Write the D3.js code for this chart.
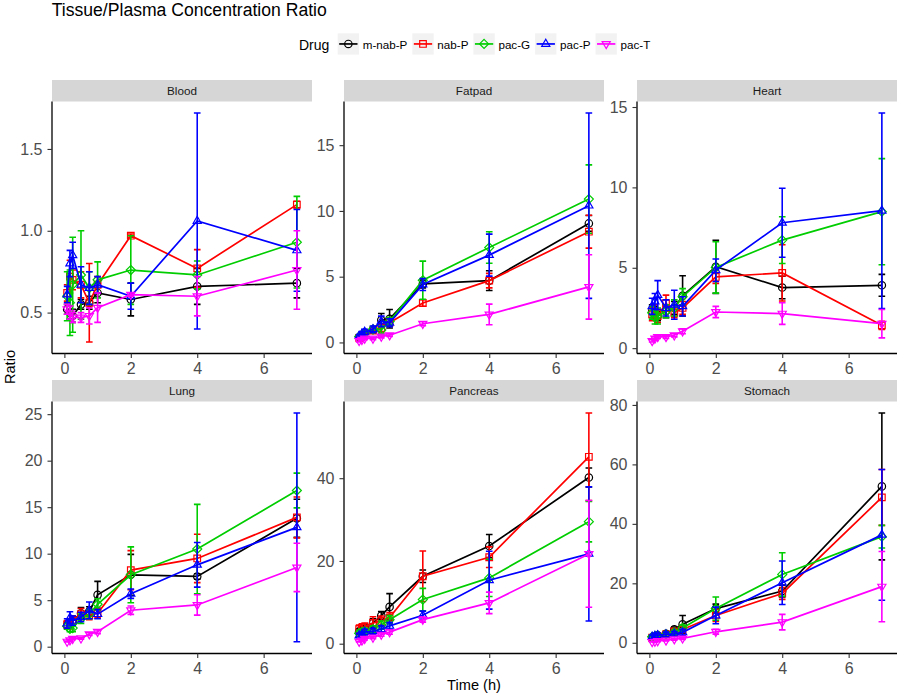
<!DOCTYPE html>
<html><head><meta charset="utf-8">
<script src="https://cdn.jsdelivr.net/npm/d3@7"></script>
<style>
body{margin:0;background:#fff}
svg{display:block}
text{font-family:"Liberation Sans",Arial,Helvetica,sans-serif}
</style>
</head><body>
<svg id="chart" width="900" height="697"></svg>
<script>
// ---------------- DATA ----------------
const times = [0.083, 0.167, 0.25, 0.5, 0.75, 1, 2, 4, 7];
const drugs = ["m-nab-P", "nab-P", "pac-G", "pac-P", "pac-T"];
const tissues = ["Blood", "Fatpad", "Heart", "Lung", "Pancreas", "Stomach"];
const xTicks = [0, 2, 4, 6];

const bloodTicks = [0.5, 1.0, 1.5];
const fatpadTicks = [0, 5, 10, 15];
const heartTicks = [0, 5, 10, 15];
const lungTicks = [0, 5, 10, 15, 20, 25];
const pancreasTicks = [0, 20, 40];
const stomachTicks = [0, 20, 40, 60, 80];

// rows: m-nab-P, nab-P, pac-G, pac-P, pac-T
const bloodMean = [
  [0.52, 0.50, 0.48, 0.55, 0.56, 0.62, 0.58, 0.66, 0.68],
  [0.62, 0.72, 0.70, 0.67, 0.56, 0.67, 0.97, 0.77, 1.16],
  [0.60, 0.56, 0.67, 0.73, 0.65, 0.70, 0.76, 0.73, 0.93],
  [0.61, 0.80, 0.85, 0.67, 0.65, 0.67, 0.60, 1.06, 0.88],
  [0.52, 0.50, 0.47, 0.47, 0.48, 0.53, 0.61, 0.60, 0.76]
];
const bloodSD = [
  [0.03, 0.04, 0.04, 0.03, 0.04, 0.06, 0.10, 0.11, 0.09],
  [0.05, 0.10, 0.06, 0.08, 0.24, 0.05, 0.01, 0.115, 0.02],
  [0.15, 0.20, 0.29, 0.27, 0.10, 0.11, 0.21, 0.085, 0.28],
  [0.05, 0.08, 0.08, 0.11, 0.10, 0.05, 0.08, 0.66, 0.25],
  [0.03, 0.04, 0.03, 0.03, 0.05, 0.09, 0.01, 0.12, 0.24]
];

const fatpadMean = [
  [0.40, 0.55, 0.75, 0.95, 1.70, 1.80, 4.45, 4.70, 9.05],
  [0.35, 0.50, 0.65, 0.90, 1.10, 1.50, 3.00, 4.70, 8.42],
  [0.45, 0.55, 0.70, 1.00, 0.95, 1.60, 4.73, 7.22, 10.90],
  [0.50, 0.65, 0.80, 1.00, 1.60, 1.50, 4.40, 6.64, 10.40],
  [0.12, 0.20, 0.30, 0.30, 0.45, 0.55, 1.42, 2.13, 4.22]
];
const fatpadSD = [
  [0.10, 0.15, 0.20, 0.20, 0.50, 0.70, 0.30, 0.75, 0.60],
  [0.10, 0.15, 0.15, 0.20, 0.30, 0.25, 0.25, 0.55, 1.25],
  [0.10, 0.15, 0.20, 0.20, 0.30, 0.30, 1.45, 1.20, 2.60],
  [0.10, 0.15, 0.20, 0.25, 0.40, 0.30, 0.45, 1.60, 7.05],
  [0.09, 0.05, 0.10, 0.10, 0.10, 0.10, 0.15, 0.78, 2.45]
];

const heartMean = [
  [2.30, 2.20, 2.00, 2.30, 2.50, 3.25, 5.06, 3.77, 3.91],
  [2.10, 2.30, 2.00, 2.80, 2.20, 2.50, 4.43, 4.68, 1.42],
  [2.20, 1.90, 2.00, 2.30, 2.50, 3.20, 5.02, 6.72, 8.49],
  [2.60, 2.90, 3.30, 2.50, 2.70, 2.60, 4.85, 7.80, 8.55],
  [0.45, 0.60, 0.70, 0.70, 0.80, 1.05, 2.25, 2.15, 1.52]
];
const heartSD = [
  [0.40, 0.40, 0.30, 0.40, 0.40, 1.25, 1.65, 0.70, 0.68],
  [0.40, 0.40, 0.40, 0.50, 0.30, 0.40, 0.40, 1.75, 0.25],
  [0.40, 0.40, 0.50, 0.40, 0.50, 0.50, 1.60, 1.45, 3.30],
  [0.50, 0.50, 0.90, 0.50, 0.90, 0.60, 0.70, 2.15, 6.08],
  [0.07, 0.10, 0.10, 0.10, 0.10, 0.15, 0.35, 0.67, 0.88]
];

const lungMean = [
  [2.30, 2.50, 2.80, 3.60, 3.80, 5.57, 7.73, 7.55, 13.80],
  [2.40, 2.30, 2.80, 3.50, 3.40, 3.60, 8.23, 9.49, 13.90],
  [2.20, 1.90, 2.00, 3.00, 3.50, 4.56, 7.73, 10.50, 16.79],
  [2.50, 3.10, 2.80, 3.20, 3.90, 3.50, 5.70, 8.80, 12.83],
  [0.55, 0.70, 0.85, 0.90, 1.35, 1.60, 3.92, 4.49, 8.52]
];
const lungSD = [
  [0.40, 0.50, 0.50, 0.60, 0.50, 1.45, 2.20, 0.30, 2.05],
  [0.40, 0.40, 0.50, 0.60, 0.50, 0.50, 2.10, 2.60, 2.20],
  [0.30, 0.30, 0.40, 0.50, 0.50, 0.60, 3.00, 4.80, 1.87],
  [0.50, 0.65, 0.50, 0.50, 0.90, 0.50, 0.50, 2.40, 12.30],
  [0.05, 0.10, 0.10, 0.10, 0.15, 0.20, 0.45, 1.10, 2.60]
];

const pancreasMean = [
  [3.0, 3.5, 4.0, 5.0, 6.8, 8.9, 16.3, 23.6, 40.16],
  [3.5, 3.8, 4.0, 5.0, 5.5, 6.3, 16.3, 20.9, 45.17],
  [2.5, 2.8, 3.0, 3.5, 4.5, 5.8, 10.67, 15.9, 29.5],
  [2.0, 2.2, 2.8, 3.0, 3.5, 4.3, 6.87, 15.35, 21.7],
  [0.5, 0.8, 1.2, 1.5, 2.2, 2.8, 5.82, 9.86, 21.7]
];
const pancreasSD = [
  [0.6, 0.8, 0.8, 1.0, 1.0, 3.2, 1.5, 2.8, 2.3],
  [1.0, 1.0, 1.0, 1.5, 1.2, 1.2, 6.1, 2.5, 10.6],
  [0.7, 0.8, 0.8, 0.8, 1.0, 1.0, 2.7, 4.5, 4.9],
  [0.5, 0.6, 0.7, 0.7, 0.8, 0.8, 1.0, 7.0, 16.2],
  [0.1, 0.2, 0.3, 0.3, 0.4, 0.5, 0.6, 2.6, 12.9]
];

const stomachMean = [
  [1.8, 2.0, 2.5, 3.0, 4.5, 6.2, 11.5, 17.4, 52.6],
  [1.7, 2.0, 2.2, 2.8, 3.8, 4.5, 9.2, 16.6, 48.9],
  [2.0, 2.2, 2.5, 2.8, 3.5, 5.0, 11.5, 23.0, 35.7],
  [2.0, 2.3, 2.5, 2.8, 3.0, 3.5, 9.2, 20.2, 36.3],
  [0.3, 0.4, 0.6, 0.8, 1.2, 1.5, 3.7, 6.95, 18.9]
];
const stomachSD = [
  [0.5, 0.6, 0.6, 0.8, 0.8, 3.0, 1.5, 2.0, 24.7],
  [0.5, 0.5, 0.6, 0.7, 0.8, 1.0, 2.0, 2.0, 9.4],
  [0.5, 0.5, 0.6, 0.7, 0.8, 1.0, 3.9, 7.3, 3.8],
  [0.6, 0.8, 0.8, 0.8, 0.8, 1.0, 2.8, 7.3, 22.0],
  [0.05, 0.1, 0.2, 0.2, 0.3, 0.4, 0.8, 2.6, 11.8]
];

// ---------------- STYLE / LAYOUT ----------------
const colors = ["#000000", "#ff0000", "#00cd00", "#0000ff", "#ff00ff"];
const shapes = ["circle", "square", "diamond", "triUp", "triDown"];
const panelMeans = [bloodMean, fatpadMean, heartMean, lungMean, pancreasMean, stomachMean];
const panelSDs = [bloodSD, fatpadSD, heartSD, lungSD, pancreasSD, stomachSD];
const panelTicks = [bloodTicks, fatpadTicks, heartTicks, lungTicks, pancreasTicks, stomachTicks];

const colX = [52, 344, 637];
const panelW = 260;
const stripTop = [80, 380];
const stripH = 21.5;
const plotH = 252;
const capW = 0.2; // error bar width in x units

const svg = d3.select("#chart");

function shapePath(shape, x, y) {
  switch (shape) {
    case "circle": return null;
    case "square": { const s = 3.3; return `M${x-s},${y-s}h${2*s}v${2*s}h${-2*s}Z`; }
    case "diamond": { const d = 4.5; return `M${x},${y-d}L${x+d},${y}L${x},${y+d}L${x-d},${y}Z`; }
    case "triUp": { const r = 4.7; return `M${x},${y-r}L${x+r*0.866},${y+r*0.5}L${x-r*0.866},${y+r*0.5}Z`; }
    case "triDown": { const r = 4.7; return `M${x},${y+r}L${x+r*0.866},${y-r*0.5}L${x-r*0.866},${y-r*0.5}Z`; }
  }
}
function drawMarker(g, shape, x, y, color) {
  if (shape === "circle") {
    g.append("circle").attr("cx", x).attr("cy", y).attr("r", 3.7)
      .attr("fill", "none").attr("stroke", color).attr("stroke-width", 1.2);
  } else {
    g.append("path").attr("d", shapePath(shape, x, y))
      .attr("fill", "none").attr("stroke", color).attr("stroke-width", 1.2);
  }
}

// Title
svg.append("text").attr("x", 51.7).attr("y", 16).attr("font-size", 17.6)
  .attr("fill", "#000").text("Tissue/Plasma Concentration Ratio");

// Legend
const legY = 33.3, keyS = 21.3;
svg.append("text").attr("x", 299).attr("y", 50).attr("font-size", 14)
  .attr("fill", "#000").text("Drug");
let lx = 337.7;
drugs.forEach((d, i) => {
  const g = svg.append("g");
  g.append("rect").attr("x", lx).attr("y", legY).attr("width", keyS).attr("height", keyS)
    .attr("fill", "#f2f2f2");
  g.append("line").attr("x1", lx + 1.5).attr("x2", lx + keyS - 1.5)
    .attr("y1", legY + keyS / 2).attr("y2", legY + keyS / 2)
    .attr("stroke", colors[i]).attr("stroke-width", 1.7);
  drawMarker(g, shapes[i], lx + keyS / 2, legY + keyS / 2, colors[i]);
  const t = g.append("text").attr("x", lx + keyS + 3.7).attr("y", 49.3)
    .attr("font-size", 11.65).attr("fill", "#000").text(d);
  lx += keyS + 3.7 + t.node().getComputedTextLength() + 5;
});

// X domain (ggplot-like: data range incl. errorbar width, 5% expansion)
const xlo = d3.min(times) - capW / 2, xhi = d3.max(times) + capW / 2;
const xr = xhi - xlo;

tissues.forEach((tissue, p) => {
  const col = p % 3, row = Math.floor(p / 3);
  const left = colX[col];
  const top = stripTop[row] + stripH;
  const bottom = top + plotH;
  const means = panelMeans[p], sds = panelSDs[p];

  let lo = Infinity, hi = -Infinity;
  means.forEach((ser, s) => ser.forEach((m, k) => {
    lo = Math.min(lo, m - sds[s][k]); hi = Math.max(hi, m + sds[s][k]);
  }));
  const yr = hi - lo;
  const y = d3.scaleLinear().domain([lo - 0.05 * yr, hi + 0.05 * yr]).range([bottom, top]);
  const x = d3.scaleLinear().domain([xlo - 0.05 * xr, xhi + 0.05 * xr]).range([left, left + panelW]);

  // strip
  svg.append("rect").attr("x", left).attr("y", stripTop[row]).attr("width", panelW)
    .attr("height", stripH).attr("fill", "#d6d6d6");
  svg.append("text").attr("x", left + panelW / 2).attr("y", stripTop[row] + 15)
    .attr("text-anchor", "middle").attr("font-size", 11.7).attr("fill", "#1a1a1a").text(tissue);

  // clip
  const cid = "clip" + p;
  svg.append("clipPath").attr("id", cid).append("rect")
    .attr("x", left).attr("y", top).attr("width", panelW).attr("height", plotH);
  const g = svg.append("g").attr("clip-path", `url(#${cid})`);

  const half = x(capW / 2) - x(0);
  const line = d3.line().x((d, k) => x(times[k])).y(d => y(d));

  means.forEach((ser, s) => {
    const c = colors[s];
    const sg = g.append("g");
    // error bars
    ser.forEach((m, k) => {
      const xx = x(times[k]), y1 = y(m - sds[s][k]), y2 = y(m + sds[s][k]);
      sg.append("path")
        .attr("d", `M${xx-half},${y1}H${xx+half}M${xx},${y1}V${y2}M${xx-half},${y2}H${xx+half}`)
        .attr("fill", "none").attr("stroke", c).attr("stroke-width", 1.6);
    });
    // line
    sg.append("path").datum(ser).attr("d", line).attr("fill", "none")
      .attr("stroke", c).attr("stroke-width", 1.7);
    // points
    ser.forEach((m, k) => drawMarker(sg, shapes[s], x(times[k]), y(m), c));
  });

  // axes
  const ax = svg.append("g").attr("transform", `translate(0,${bottom})`)
    .call(d3.axisBottom(x).tickValues(xTicks).tickSize(4.5).tickPadding(5).tickFormat(d3.format("d")));
  const ay = svg.append("g").attr("transform", `translate(${left},0)`)
    .call(d3.axisLeft(y).tickValues(panelTicks[p]).tickSize(4.5).tickPadding(5)
      .tickFormat(p === 0 ? d3.format(".1f") : d3.format("d")));
  [ax, ay].forEach(a => {
    a.select(".domain").attr("stroke", "#000").attr("stroke-width", 1.3);
    a.selectAll(".tick line").attr("stroke", "#333").attr("stroke-width", 1.1);
    a.selectAll(".tick text").attr("font-size", 16).attr("fill", "#4d4d4d")
      .attr("font-family", '"Liberation Sans",Arial,sans-serif');
  });
  ax.select(".domain").attr("d", `M${left},0H${left + panelW}`);
  ay.select(".domain").attr("d", `M0,${top}V${bottom}`);
});

// axis titles
svg.append("text").attr("x", 474).attr("y", 690).attr("text-anchor", "middle")
  .attr("font-size", 14.6).attr("fill", "#000").text("Time (h)");
svg.append("text").attr("transform", "translate(15,367) rotate(-90)").attr("text-anchor", "middle")
  .attr("font-size", 14.6).attr("fill", "#000").text("Ratio");
</script>
</body></html>
